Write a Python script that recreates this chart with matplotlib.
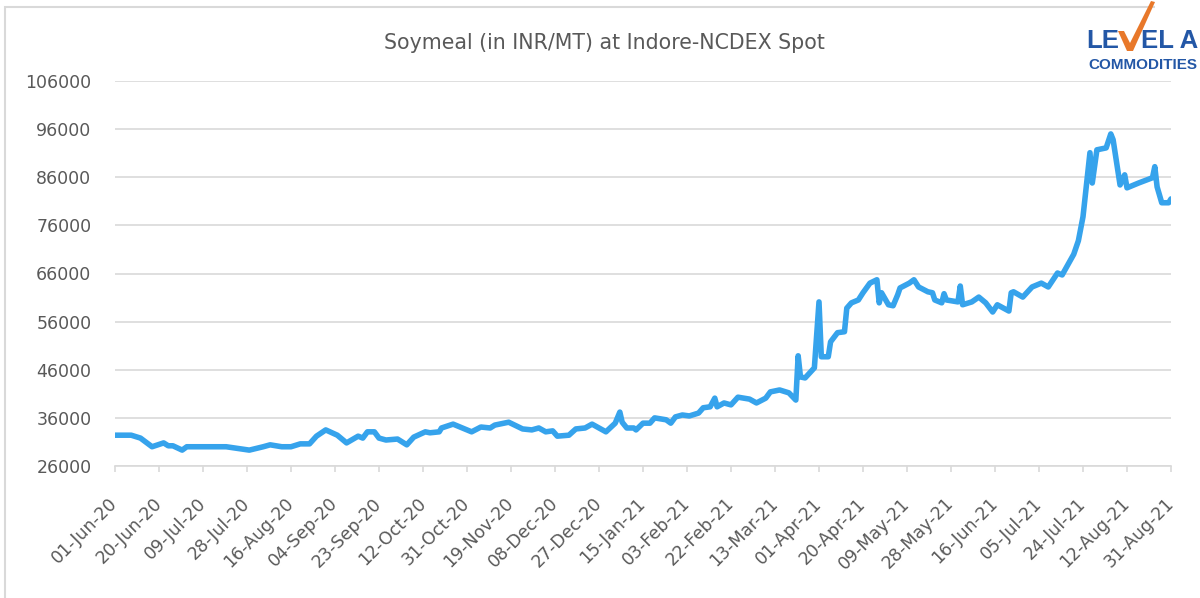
import matplotlib
matplotlib.use("Agg")
import matplotlib.pyplot as plt
from matplotlib.patches import Rectangle, Polygon
import pandas as pd

# ---- data ----
dates = [
    "2020-06-01", "2020-06-08", "2020-06-12", "2020-06-17", "2020-06-22", "2020-06-24",
    "2020-06-26", "2020-06-30", "2020-07-02", "2020-07-12", "2020-07-19", "2020-07-29",
    "2020-08-04", "2020-08-07", "2020-08-12", "2020-08-16", "2020-08-20", "2020-08-24",
    "2020-08-27", "2020-08-31", "2020-09-05", "2020-09-09", "2020-09-14", "2020-09-16",
    "2020-09-18", "2020-09-21", "2020-09-23", "2020-09-26", "2020-10-01", "2020-10-05",
    "2020-10-08", "2020-10-13", "2020-10-15", "2020-10-19", "2020-10-20", "2020-10-25",
    "2020-11-02", "2020-11-06", "2020-11-10", "2020-11-12", "2020-11-18", "2020-11-24",
    "2020-11-28", "2020-12-01", "2020-12-04", "2020-12-07", "2020-12-09", "2020-12-14",
    "2020-12-17", "2020-12-21", "2020-12-24", "2020-12-30", "2021-01-03", "2021-01-05",
    "2021-01-06", "2021-01-08", "2021-01-11", "2021-01-12", "2021-01-15", "2021-01-18",
    "2021-01-20", "2021-01-25", "2021-01-27", "2021-01-29", "2021-02-01", "2021-02-04",
    "2021-02-08", "2021-02-10", "2021-02-13", "2021-02-15", "2021-02-16", "2021-02-19",
    "2021-02-22", "2021-02-25", "2021-03-02", "2021-03-05", "2021-03-09", "2021-03-11",
    "2021-03-15", "2021-03-19", "2021-03-22", "2021-03-23", "2021-03-24", "2021-03-26",
    "2021-03-30", "2021-04-01", "2021-04-02", "2021-04-05", "2021-04-06", "2021-04-09",
    "2021-04-12", "2021-04-13", "2021-04-15", "2021-04-18", "2021-04-20", "2021-04-23",
    "2021-04-26", "2021-04-27", "2021-04-28", "2021-05-01", "2021-05-03", "2021-05-05",
    "2021-05-06", "2021-05-10", "2021-05-12", "2021-05-14", "2021-05-18", "2021-05-20",
    "2021-05-21", "2021-05-24", "2021-05-25", "2021-05-26", "2021-05-31", "2021-06-01",
    "2021-06-02", "2021-06-06", "2021-06-09", "2021-06-12", "2021-06-15", "2021-06-17",
    "2021-06-22", "2021-06-23", "2021-06-24", "2021-06-28", "2021-07-02", "2021-07-06",
    "2021-07-09", "2021-07-13", "2021-07-15", "2021-07-20", "2021-07-22", "2021-07-24",
    "2021-07-27", "2021-07-28", "2021-07-30", "2021-08-03", "2021-08-05", "2021-08-06",
    "2021-08-09", "2021-08-11", "2021-08-12", "2021-08-17", "2021-08-23", "2021-08-24",
    "2021-08-25", "2021-08-27", "2021-08-30", "2021-08-31",
]
prices = [
    32400, 32400, 31800, 30000, 30800, 30200,
    30200, 29300, 30000, 30000, 30000, 29300,
    30000, 30400, 30000, 30000, 30600, 30600,
    32200, 33500, 32400, 30800, 32200, 31800,
    33100, 33100, 31800, 31400, 31600, 30400,
    32000, 33100, 32900, 33100, 33900, 34700,
    33100, 34100, 33900, 34500, 35100, 33700,
    33500, 33900, 33100, 33300, 32200, 32400,
    33700, 33900, 34700, 33100, 34900, 37200,
    35100, 33900, 33900, 33500, 34900, 34900,
    36000, 35600, 34900, 36200, 36600, 36400,
    37000, 38100, 38300, 40100, 38300, 39100,
    38700, 40300, 39900, 39100, 40100, 41400,
    41800, 41200, 39700, 48900, 44500, 44300,
    46400, 60100, 48700, 48700, 51800, 53700,
    53900, 58800, 59900, 60500, 62000, 64000,
    64700, 59900, 62000, 59500, 59300, 61600,
    63000, 64000, 64700, 63200, 62200, 62000,
    60500, 59900, 61800, 60500, 60100, 63400,
    59500, 60100, 61100, 59900, 58000, 59500,
    58200, 62000, 62200, 61100, 63200, 64000,
    63200, 66100, 65700, 70000, 72800, 77800,
    91100, 84800, 91700, 92100, 95000, 93800,
    84400, 86500, 83800, 84800, 85900, 88200,
    84000, 80700, 80700, 81500,
]
tick_dates = pd.date_range("2020-06-01", "2021-08-31", freq="19D")
y_ticks = list(range(26000, 106001, 10000))
title = "Soymeal (in INR/MT) at Indore-NCDEX Spot"

# ---- figure ----
W, H = 1200, 598
fig = plt.figure(figsize=(W / 100, H / 100), dpi=100)
fig.patch.set_facecolor("white")

# outer chart-area border
fig.patches.append(Rectangle((5 / W, -0.05), 1.2, 1 - 7 / H + 0.05, transform=fig.transFigure,
                             fill=False, edgecolor="#D9D9D9", linewidth=1.5, zorder=0))

ax = fig.add_axes([115 / W, (H - 466) / H, (1171 - 115) / W, (466 - 81) / H])
x = pd.to_datetime(dates)
ax.plot(x, prices, color="#36A3EC", linewidth=4.0, solid_joinstyle="round",
        solid_capstyle="round", zorder=3)

ax.set_xlim(pd.Timestamp("2020-06-01"), pd.Timestamp("2021-08-31"))
ax.set_ylim(26000, 106000)
ax.set_yticks(y_ticks)
ax.set_yticklabels([str(v) for v in y_ticks])
ax.set_xticks(tick_dates)
ax.set_xticklabels([d.strftime("%d-%b-%y") for d in tick_dates], rotation=45,
                   ha="right", va="center", rotation_mode="anchor")

ax.grid(axis="y", color="#D9D9D9", linewidth=1.2, zorder=0)
ax.set_axisbelow(True)
for s in ["left", "right", "top"]:
    ax.spines[s].set_visible(False)
ax.spines["bottom"].set_color("#D9D9D9")
ax.spines["bottom"].set_linewidth(1.2)
ax.tick_params(axis="y", length=0, pad=17, labelsize=12.5, labelcolor="#595959")
ax.tick_params(axis="x", length=4, width=1.2, color="#D9D9D9", pad=21,
               labelsize=12.5, labelcolor="#595959")

fig.text(604 / W, 1 - 43 / H, title, ha="center", va="center", fontsize=14.8, color="#595959")

# logo
logo_bg = Rectangle((1155 / W, 1 - 76 / H), 45 / W, 76 / H, transform=fig.transFigure,
                    facecolor="white", edgecolor="none", zorder=5)
fig.patches.append(logo_bg)
blue = "#2357A6"
orange = "#E8782A"
fig.text(1086 / W, 1 - 40.5 / H, "LE", ha="left", va="center", fontsize=18.5,
         fontweight="bold", color=blue, family="Liberation Sans", zorder=6)
fig.text(1198 / W, 1 - 40.5 / H, "EL A", ha="right", va="center", fontsize=18.5,
         fontweight="bold", color=blue, family="Liberation Sans", zorder=6)
check = [(1118, 31), (1124, 31), (1130, 43), (1151, 1), (1155, 2), (1133, 51), (1127, 51)]
fig.patches.append(Polygon([(px / W, 1 - py / H) for px, py in check], closed=True,
                           transform=fig.transFigure, facecolor=orange, edgecolor="none",
                           zorder=6))
fig.text(1197 / W, 1 - 65 / H, "COMMODITIES", ha="right", va="center", fontsize=11,
         fontweight="bold", color=blue, family="Liberation Sans", zorder=6)

fig.savefig("out.png", dpi=100, facecolor="white")
